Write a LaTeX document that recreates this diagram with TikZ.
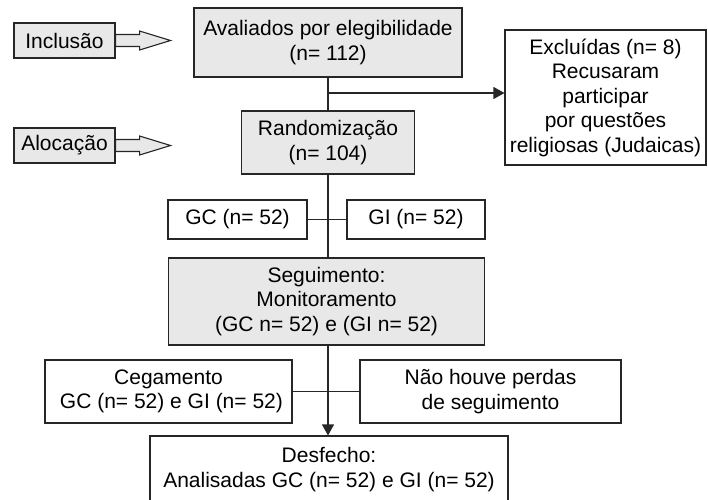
\documentclass[tikz,border=0pt]{standalone}
\usepackage{fontspec}
\setmainfont{Liberation Sans}
\usetikzlibrary{arrows.meta}
\definecolor{boxgray}{HTML}{E8E8E8}
\tikzset{
	graybox/.style={draw=black!85, line width=1.1pt, fill=boxgray, align=center, inner sep=2pt},
	whitebox/.style={draw=black!85, line width=1.1pt, fill=white, align=center, inner sep=2pt},
	blockarrow/.style={draw=black!85, line width=1.1pt, fill=boxgray, line join=miter},
	flowline/.style={draw=black!85, line width=1.1pt},
	flowarrow/.style={flowline, -{Triangle[length=11pt,width=12pt]}}
}

\begin{document}
\begin{tikzpicture}[x=1pt, y=-1pt, font=\fontsize{21}{24.5}\selectfont]
		%%%%% START %%%%%
		\useasboundingbox (0,0) rectangle (708,499);
		
		% left labels
		\node[graybox, minimum width=101, minimum height=35] (incl) at (64.5, 40.5) {Inclusão};
		\node[graybox, minimum width=101, minimum height=35] (aloc) at (64.5, 145.5) {Alocação};
		\draw[blockarrow] (incl.east) ++(0,-6) -- ++(24,0) -- ++(0,-3.5) -- ++(31,9.5) -- ++(-31,9.5) -- ++(0,-3.5) -- ++(-24,0) -- cycle;
		\draw[blockarrow] (aloc.east) ++(0,-6) -- ++(24,0) -- ++(0,-3.5) -- ++(31,9.5) -- ++(-31,9.5) -- ++(0,-3.5) -- ++(-24,0) -- cycle;
		
		% main column
		\node[graybox, minimum width=268, minimum height=69] (aval) at (328, 42.5) {Avaliados por elegibilidade\\(n= 112)};
		\node[whitebox, minimum width=201, minimum height=135] (excl) at (605.5, 97.5) {Excluídas (n= 8)\\Recusaram\\participar\\por questões\\religiosas (Judaicas)};
		\node[graybox, minimum width=173, minimum height=63] (rand) at (328, 142.5) {Randomização\\(n= 104)};
		\node[whitebox, minimum width=139, minimum height=39] (gc) at (237.5, 219.5) {GC (n= 52)};
		\node[whitebox, minimum width=138, minimum height=39] (gi) at (416, 219.5) {GI (n= 52)};
		\node[graybox, minimum width=316, minimum height=87] (seg) at (326.5, 301.5) {Seguimento:\\Monitoramento\\(GC n= 52) e (GI n= 52)};
		\node[whitebox, minimum width=247, minimum height=63] (ceg) at (168.5, 391.5) {Cegamento\\\ GC (n= 52) e GI (n= 52)};
		\node[whitebox, minimum width=261, minimum height=63] (nao) at (490.5, 391.5) {Não houve perdas\\de seguimento};
		\node[whitebox, minimum width=358, minimum height=67] (desf) at (329, 469.5) {Desfecho:\\Analisadas GC (n= 52) e GI (n= 52)};
		
		% connectors
		\coordinate (split) at (328, 93);
		\draw[flowline] (aval.south) -- (aval.south |- rand.north);
		\draw[flowarrow] (split) -- (split -| excl.west);
		\draw[flowline] (rand.south) -- (rand.south |- seg.north);
		\draw[flowline] (gc.east) -- (gi.west);
		\draw[flowarrow] (seg.south -| rand.south) -- (rand.south |- desf.north);
		\draw[flowline] (ceg.east) -- (nao.west);
		%%%%% END %%%%%
	\end{tikzpicture}
\end{document}
